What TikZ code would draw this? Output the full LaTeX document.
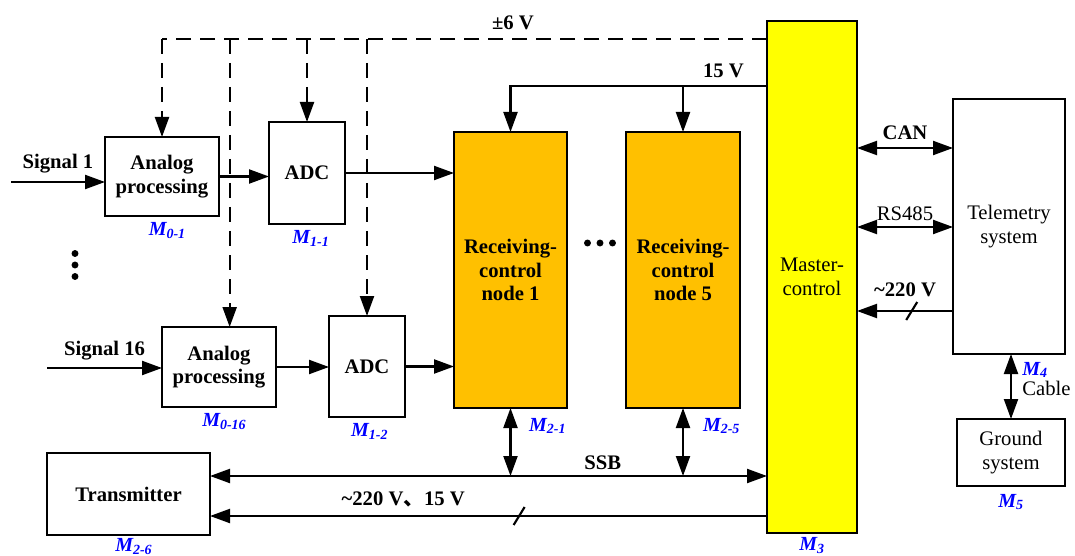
\documentclass[tikz,border=0pt]{standalone}
\usepackage{fontspec}
\setmainfont{Liberation Serif}
\newfontfamily\cjk{Noto Sans CJK SC}
\usetikzlibrary{arrows.meta,positioning}
\definecolor{cRcv}{HTML}{FFC000}
\definecolor{cMst}{HTML}{FFFF00}
\definecolor{cTag}{HTML}{0000FF}
\newcommand\bsz{\fontsize{15.5}{17.5}\selectfont}
\newcommand\tsz{\fontsize{15}{17}\selectfont}
\tikzset{
  blk/.style  ={draw=black,fill=white,line width=1.6pt,align=center,
                font=\bsz\bfseries,inner sep=2pt},
  sz/.style 2 args={minimum width=#1*0.75pt,minimum height=#2*0.75pt},
  rcv/.style  ={blk,fill=cRcv},
  mst/.style  ={blk,fill=cMst,font=\bsz},
  plain/.style={blk,font=\bsz},
  tag/.style  ={font=\tsz\bfseries\itshape,text=cTag,inner sep=1pt},
  lbl/.style  ={font=\bsz\bfseries,inner sep=1pt},
  txt/.style  ={font=\bsz,inner sep=1pt},
  sig/.style  ={-{Triangle[length=15pt,width=10.5pt]},line width=1.6pt},
  bi/.style   ={{Triangle[length=15pt,width=10.5pt]}-{Triangle[length=15pt,width=10.5pt]},
                line width=1.6pt},
  dsh/.style  ={line width=1.6pt,dash pattern=on 11pt off 7pt},
  cut/.style  ={line width=1.6pt},
}

\begin{document}
\begin{tikzpicture}[x=0.75pt,y=-0.75pt,every node/.style={outer sep=0pt}]
\useasboundingbox (0,0) rectangle (1075,556);

% ---- acquisition chain --------------------------------------------------
\node[blk,sz={114}{79}]  (ap1)  at (162,176.5) {Analog\\processing};
\node[blk,sz={76}{102}]  (adc1) at (307,173)   {ADC};
\node[blk,sz={114}{80}]  (ap16) at (219,367)   {Analog\\processing};
\node[blk,sz={76}{101}]  (adc2) at (367,366.5) {ADC};
\node[blk,sz={163}{82}]  (tx)   at (128.5,494) {Transmitter};

% ---- receiving-control nodes and master ---------------------------------
\node[rcv,sz={113}{276}]   (rc1) at (510.5,270) {Receiving-\\control\\node 1};
\node[rcv,sz={114}{276}]   (rc5) at (683,270)   {Receiving-\\control\\node 5};
\node[mst,sz={90}{512}]    (mc)  at (812,277)   {Master-\\control};
\node[plain,sz={112}{255}] (tel) at (1009,226.5) {Telemetry\\system};
\node[plain,sz={108}{67}]  (gnd) at (1011,452.5) {Ground\\system};

% ---- module tags --------------------------------------------------------
\node[tag,below=4pt of ap1,xshift=4pt]  (t01)  {M\textsubscript{0-1}};
\node[tag,below=4pt of adc1,xshift=3pt] (t11)  {M\textsubscript{1-1}};
\node[tag,below=4pt of ap16,xshift=4pt] (t016) {M\textsubscript{0-16}};
\node[tag,below=4pt of adc2,xshift=2pt] (t12)  {M\textsubscript{1-2}};
\node[tag,below=1.5pt of tx,xshift=4pt] (t26)  {M\textsubscript{2-6}};
\node[tag,below=2.5pt of mc]            (t3)   {M\textsubscript{3}};
\node[tag,below=5pt of gnd]             (t5)   {M\textsubscript{5}};
\node[tag,anchor=west] (t21) at ([xshift=13pt,yshift=-13.5pt]rc1.south) {M\textsubscript{2-1}};
\node[tag,anchor=west] (t25) at ([xshift=14pt,yshift=-13.5pt]rc5.south) {M\textsubscript{2-5}};
\node[tag,anchor=west] (t4)  at ([xshift=9pt,yshift=-12pt]tel.south)    {M\textsubscript{4}};
\node[txt,anchor=west] (cab) at ([yshift=-14pt]t4.west) {Cable};

% ---- supply rails -------------------------------------------------------
\coordinate (r6)  at (0,39);
\coordinate (r15) at (0,86);
\coordinate (d2)  at ([xshift=8pt]ap16.north);
\draw[dsh] (mc.west |- r6) -- node[lbl,pos=0.42,above=5.7pt]{±6 V} (ap1.north |- r6);
\draw[dsh,-{Triangle[length=15pt,width=10.5pt]}] (ap1.north |- r6) -- (ap1.north);
\draw[dsh,-{Triangle[length=15pt,width=10.5pt]}] (d2 |- r6) -- (d2);
\draw[dsh,-{Triangle[length=15pt,width=10.5pt]}] (adc1.north |- r6) -- (adc1.north);
\draw[dsh,-{Triangle[length=15pt,width=10.5pt]}] (adc2.north |- r6) -- (adc2.north);
\draw[sig] (mc.west |- r15) -| node[lbl,pos=0.085,above=5pt]{15 V} (rc1.north);
\draw[sig] (rc5.north |- r15) -- (rc5.north);

% ---- signal path --------------------------------------------------------
\coordinate (s1)  at (11,182);
\coordinate (s16) at (47,368);
\draw[sig] (s1) -- node[lbl,above=5.5pt]{Signal 1} (s1 -| ap1.west);
\draw[sig] (s16) -- node[lbl,above=4.7pt]{Signal 16} (s16 -| ap16.west);
\draw[sig] (ap1.east) -- (ap1.east -| adc1.west);
\draw[sig] (adc1.east) -- (adc1.east -| rc1.west);
\draw[sig] (ap16.east) -- (ap16.east -| adc2.west);
\draw[sig] (adc2.east) -- (adc2.east -| rc1.west);

% ---- buses --------------------------------------------------------------
\coordinate (ssb) at (0,476);
\coordinate (pw)  at (0,516);
\draw[bi] (tx.east |- ssb) -- node[lbl,pos=0.705,above=4pt]{SSB} (mc.west |- ssb);
\draw[bi] (rc1.south) -- (rc1.south |- ssb);
\draw[bi] (rc5.south) -- (rc5.south |- ssb);
\draw[sig] (mc.west |- pw) -- coordinate[pos=0.445] (k1)
  node[lbl,pos=0.653,above=5.7pt]{\textasciitilde220 V{\cjk 、}15 V} (tx.east |- pw);
\draw[cut] (k1) +(-5.5,9) -- +(5.5,-9);

% ---- telemetry side -----------------------------------------------------
\coordinate (can) at (0,148);
\coordinate (rs)  at (0,227);
\coordinate (ac)  at (0,311);
\draw[bi] (mc.east |- can) -- node[lbl,above=5pt]{CAN} (tel.west |- can);
\draw[bi] (mc.east |- rs) -- node[txt,above=4pt]{RS485} (tel.west |- rs);
\draw[sig] (tel.west |- ac) -- coordinate[pos=0.43] (k2)
  node[lbl,above=10pt]{\textasciitilde220 V} (mc.east |- ac);
\draw[cut] (k2) +(-5.5,9) -- +(5.5,-9);
\draw[bi] (tel.south -| gnd.north) -- (gnd.north);

% ---- ellipsis dots ------------------------------------------------------
\coordinate (hd) at (600,243);
\coordinate (vd) at (75,265);
\foreach \i in {-1,0,1}{
  \fill (hd) ++(\i*12.5,0) circle (2.6pt);
  \fill (vd) ++(0,\i*11.5) circle (2.6pt);
}
\end{tikzpicture}
\end{document}
